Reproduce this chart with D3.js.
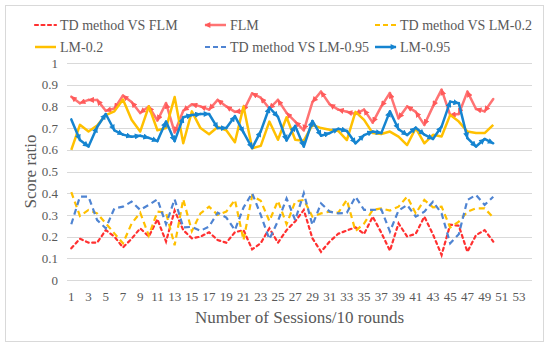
<!DOCTYPE html>
<html>
<head>
<meta charset="utf-8">
<script src="https://cdn.jsdelivr.net/npm/d3@7"></script>
<style>
  body { margin: 0; background: #fff; }
  text { font-family: "Liberation Serif", "Times New Roman", serif; fill: #595959; }
</style>
</head>
<body>
<div id="chart"></div>
<script>
// session numbers (x categories) and axis slots
var sessions = [1,2,3,4,5,6,7,8,9,10,11,12,13,14,15,16,17,18,19,20,21,22,23,24,25,
  26,27,28,29,30,31,32,33,34,35,36,37,38,39,40,41,42,43,44,45,46,47,48,49,50];
var axisSlots = [1,2,3,4,5,6,7,8,9,10,11,12,13,14,15,16,17,18,19,20,21,22,23,24,25,26,27,
  28,29,30,31,32,33,34,35,36,37,38,39,40,41,42,43,44,45,46,47,48,49,50,51,52,53,54];
var xTickLabels = [1,3,5,7,9,11,13,15,17,19,21,23,25,27,29,31,33,35,37,39,41,43,45,47,49,51,53];
var yTickLabels = [0,0.1,0.2,0.3,0.4,0.5,0.6,0.7,0.8,0.9,1];

// series values
var tdVsFlm = [0.146,0.19,0.172,0.172,0.23,0.20,0.15,0.19,0.238,0.20,0.28,0.177,0.32,0.23,0.192,
  0.20,0.22,0.184,0.172,0.22,0.23,0.141,0.17,0.238,0.172,0.23,0.27,0.323,0.192,0.13,
  0.177,0.213,0.228,0.243,0.212,0.292,0.218,0.135,0.261,0.20,0.213,0.292,0.21,0.115,0.255,
  0.25,0.13,0.207,0.23,0.177];
var flm = [0.845,0.815,0.83,0.83,0.78,0.79,0.85,0.82,0.77,0.80,0.735,0.815,0.68,0.78,0.81,
  0.80,0.785,0.83,0.80,0.775,0.78,0.86,0.84,0.79,0.83,0.77,0.73,0.69,0.82,0.868,
  0.81,0.785,0.775,0.765,0.785,0.725,0.80,0.862,0.745,0.80,0.775,0.715,0.80,0.877,0.76,
  0.765,0.868,0.788,0.777,0.834];
var tdVsLm02 = [0.405,0.295,0.323,0.307,0.261,0.215,0.169,0.26,0.31,0.205,0.315,0.31,0.16,0.372,0.225,
  0.307,0.338,0.30,0.315,0.369,0.184,0.388,0.365,0.272,0.365,0.257,0.361,0.369,0.292,0.307,
  0.315,0.31,0.369,0.226,0.26,0.323,0.33,0.32,0.338,0.384,0.307,0.369,0.335,0.338,0.242,
  0.269,0.315,0.33,0.33,0.288];
var lm02 = [0.60,0.715,0.684,0.712,0.76,0.777,0.832,0.738,0.684,0.80,0.69,0.70,0.843,0.63,0.777,
  0.70,0.672,0.705,0.69,0.635,0.80,0.607,0.618,0.73,0.646,0.75,0.646,0.642,0.715,0.70,
  0.692,0.687,0.645,0.775,0.738,0.677,0.673,0.684,0.661,0.622,0.70,0.63,0.669,0.661,0.761,
  0.73,0.684,0.677,0.677,0.715];
var tdVsLm095 = [0.257,0.384,0.384,0.276,0.238,0.33,0.338,0.361,0.323,0.346,0.372,0.257,0.372,0.242,0.245,
  0.227,0.246,0.31,0.288,0.23,0.334,0.40,0.30,0.188,0.272,0.376,0.276,0.40,0.253,0.353,
  0.315,0.307,0.31,0.384,0.323,0.323,0.325,0.223,0.32,0.346,0.292,0.315,0.361,0.307,0.169,
  0.211,0.369,0.392,0.346,0.384];
var lm095 = [0.74,0.645,0.615,0.705,0.765,0.69,0.67,0.66,0.665,0.655,0.64,0.73,0.64,0.75,0.76,
  0.765,0.765,0.70,0.70,0.755,0.68,0.608,0.685,0.795,0.752,0.643,0.71,0.615,0.733,0.665,
  0.677,0.697,0.687,0.63,0.668,0.684,0.677,0.777,0.695,0.668,0.702,0.67,0.65,0.707,0.822,
  0.815,0.654,0.615,0.65,0.63];

var width = 550, height = 347;
var plot = {left: 67, right: 532, top: 63, bottom: 280};

var svg = d3.select("#chart")
  .append("svg")
    .attr("width", width)
    .attr("height", height);

// chart border
svg.append("rect")
  .attr("x", 5.5).attr("y", 5.5)
  .attr("width", 538).attr("height", 336)
  .attr("fill", "#fff")
  .attr("stroke", "#d9d9d9");

// arrow markers
var defs = svg.append("defs");
function arrow(id, color, orient) {
  defs.append("marker")
    .attr("id", id)
    .attr("viewBox", "0 0 10 10")
    .attr("refX", 9).attr("refY", 5)
    .attr("markerUnits", "userSpaceOnUse")
    .attr("markerWidth", 6.5).attr("markerHeight", 6)
    .attr("orient", orient)
    .append("path")
      .attr("d", "M0,0 L10,5 L0,10 z")
      .attr("fill", color);
}
arrow("arrFlm", "#ff5a5a", "auto-start-reverse");
arrow("arrLm095", "#1584d0", "auto");

var x = d3.scaleBand()
  .domain(axisSlots)
  .range([plot.left, plot.right]);

var y = d3.scaleLinear()
  .domain([0, 1])
  .range([plot.bottom, plot.top]);

// gridlines
svg.append("g")
  .selectAll("line")
  .data(yTickLabels)
  .enter().append("line")
    .attr("x1", plot.left).attr("x2", plot.right)
    .attr("y1", function(d) { return Math.round(y(d)) + 0.5; })
    .attr("y2", function(d) { return Math.round(y(d)) + 0.5; })
    .attr("stroke", "#d9d9d9");

// y axis labels
var yAxis = svg.append("g")
  .attr("transform", "translate(" + (plot.left - 9) + ",0)")
  .call(d3.axisLeft(y).tickValues(yTickLabels).tickSize(0)
    .tickFormat(function(d) { return d === 0 || d === 1 ? String(d) : d.toFixed(1); }));
yAxis.select(".domain").remove();
yAxis.selectAll("text").attr("font-size", "13px").attr("x", 0)
  .attr("font-family", "Liberation Serif").attr("fill", "#595959");

// x axis labels
var xAxis = svg.append("g")
  .attr("transform", "translate(0," + (plot.bottom + 9) + ")")
  .call(d3.axisBottom(x).tickValues(xTickLabels).tickSize(0));
xAxis.select(".domain").remove();
xAxis.selectAll("text").attr("font-size", "13px")
  .attr("font-family", "Liberation Serif").attr("fill", "#595959");

var cx = function(d, i) { return x(sessions[i]) + x.bandwidth() / 2; };
var line = d3.line()
  .x(function(d, i) { return cx(d, i); })
  .y(function(d) { return y(d); });

function dashedSeries(values, color, dash, cap) {
  svg.append("path")
    .datum(values)
    .attr("fill", "none")
    .attr("stroke", color)
    .attr("stroke-width", 2.2)
    .attr("stroke-dasharray", dash)
    .attr("stroke-linecap", cap)
    .attr("d", line);
}

function arrowSeries(values, color, marker, atStart) {
  var pts = values.map(function(d, i) { return [cx(d, i), y(d)]; });
  svg.append("g")
    .selectAll("line")
    .data(d3.pairs(pts))
    .enter().append("line")
      .attr("x1", function(d) { return d[0][0]; })
      .attr("y1", function(d) { return d[0][1]; })
      .attr("x2", function(d) { return d[1][0]; })
      .attr("y2", function(d) { return d[1][1]; })
      .attr("stroke", color)
      .attr("stroke-width", 2.5)
      .attr("stroke-linecap", "round")
      .attr(atStart ? "marker-start" : "marker-end", "url(#" + marker + ")");
}

// draw the series in the legend order
dashedSeries(tdVsFlm, "#ff3030", "3,3.5", "round");
arrowSeries(flm, "#ff7373", "arrFlm", true);
dashedSeries(tdVsLm02, "#ffc000", "6,4", "butt");
svg.append("path")
  .datum(lm02)
  .attr("fill", "none")
  .attr("stroke", "#ffc000")
  .attr("stroke-width", 2.5)
  .attr("stroke-linejoin", "round")
  .attr("d", line);
dashedSeries(tdVsLm095, "#4f84d2", "6,4", "butt");
arrowSeries(lm095, "#1584d0", "arrLm095", false);

// axis titles
svg.append("text")
  .attr("x", (plot.left + plot.right) / 2)
  .attr("y", 323)
  .attr("text-anchor", "middle")
  .style("font-size", "17px")
  .text("Number of Sessions/10 rounds");

svg.append("text")
  .attr("transform", "translate(36," + ((plot.top + plot.bottom) / 2) + ") rotate(-90)")
  .attr("text-anchor", "middle")
  .style("font-size", "17px")
  .text("Score ratio");

// Handmade legend
var legend = [
  {name: "TD method VS FLM", color: "#ff3030", kind: "dot", x: 35, y: 25},
  {name: "FLM", color: "#ff7373", kind: "back", x: 205, y: 25},
  {name: "TD method VS LM-0.2", color: "#ffc000", kind: "dash", x: 375, y: 25},
  {name: "LM-0.2", color: "#ffc000", kind: "solid", x: 35, y: 47},
  {name: "TD method VS LM-0.95", color: "#4f84d2", kind: "dash", x: 205, y: 47},
  {name: "LM-0.95", color: "#1584d0", kind: "fwd", x: 375, y: 47}
];
legend.forEach(function(l) {
  var ln = svg.append("line")
    .attr("x1", l.x).attr("x2", l.x + 21)
    .attr("y1", l.y).attr("y2", l.y)
    .attr("stroke", l.color)
    .attr("stroke-width", l.kind === "dot" || l.kind === "dash" ? 2.2 : 2.5);
  if (l.kind === "dot") ln.attr("stroke-dasharray", "3,3.5").attr("stroke-linecap", "round");
  if (l.kind === "dash") ln.attr("stroke-dasharray", "5,3");
  if (l.kind === "back") ln.attr("marker-start", "url(#arrFlm)");
  if (l.kind === "fwd") ln.attr("marker-end", "url(#arrLm095)");
  svg.append("text")
    .attr("x", l.x + 25).attr("y", l.y)
    .attr("dominant-baseline", "central")
    .style("font-size", "14px")
    .text(l.name);
});
</script>
</body>
</html>
